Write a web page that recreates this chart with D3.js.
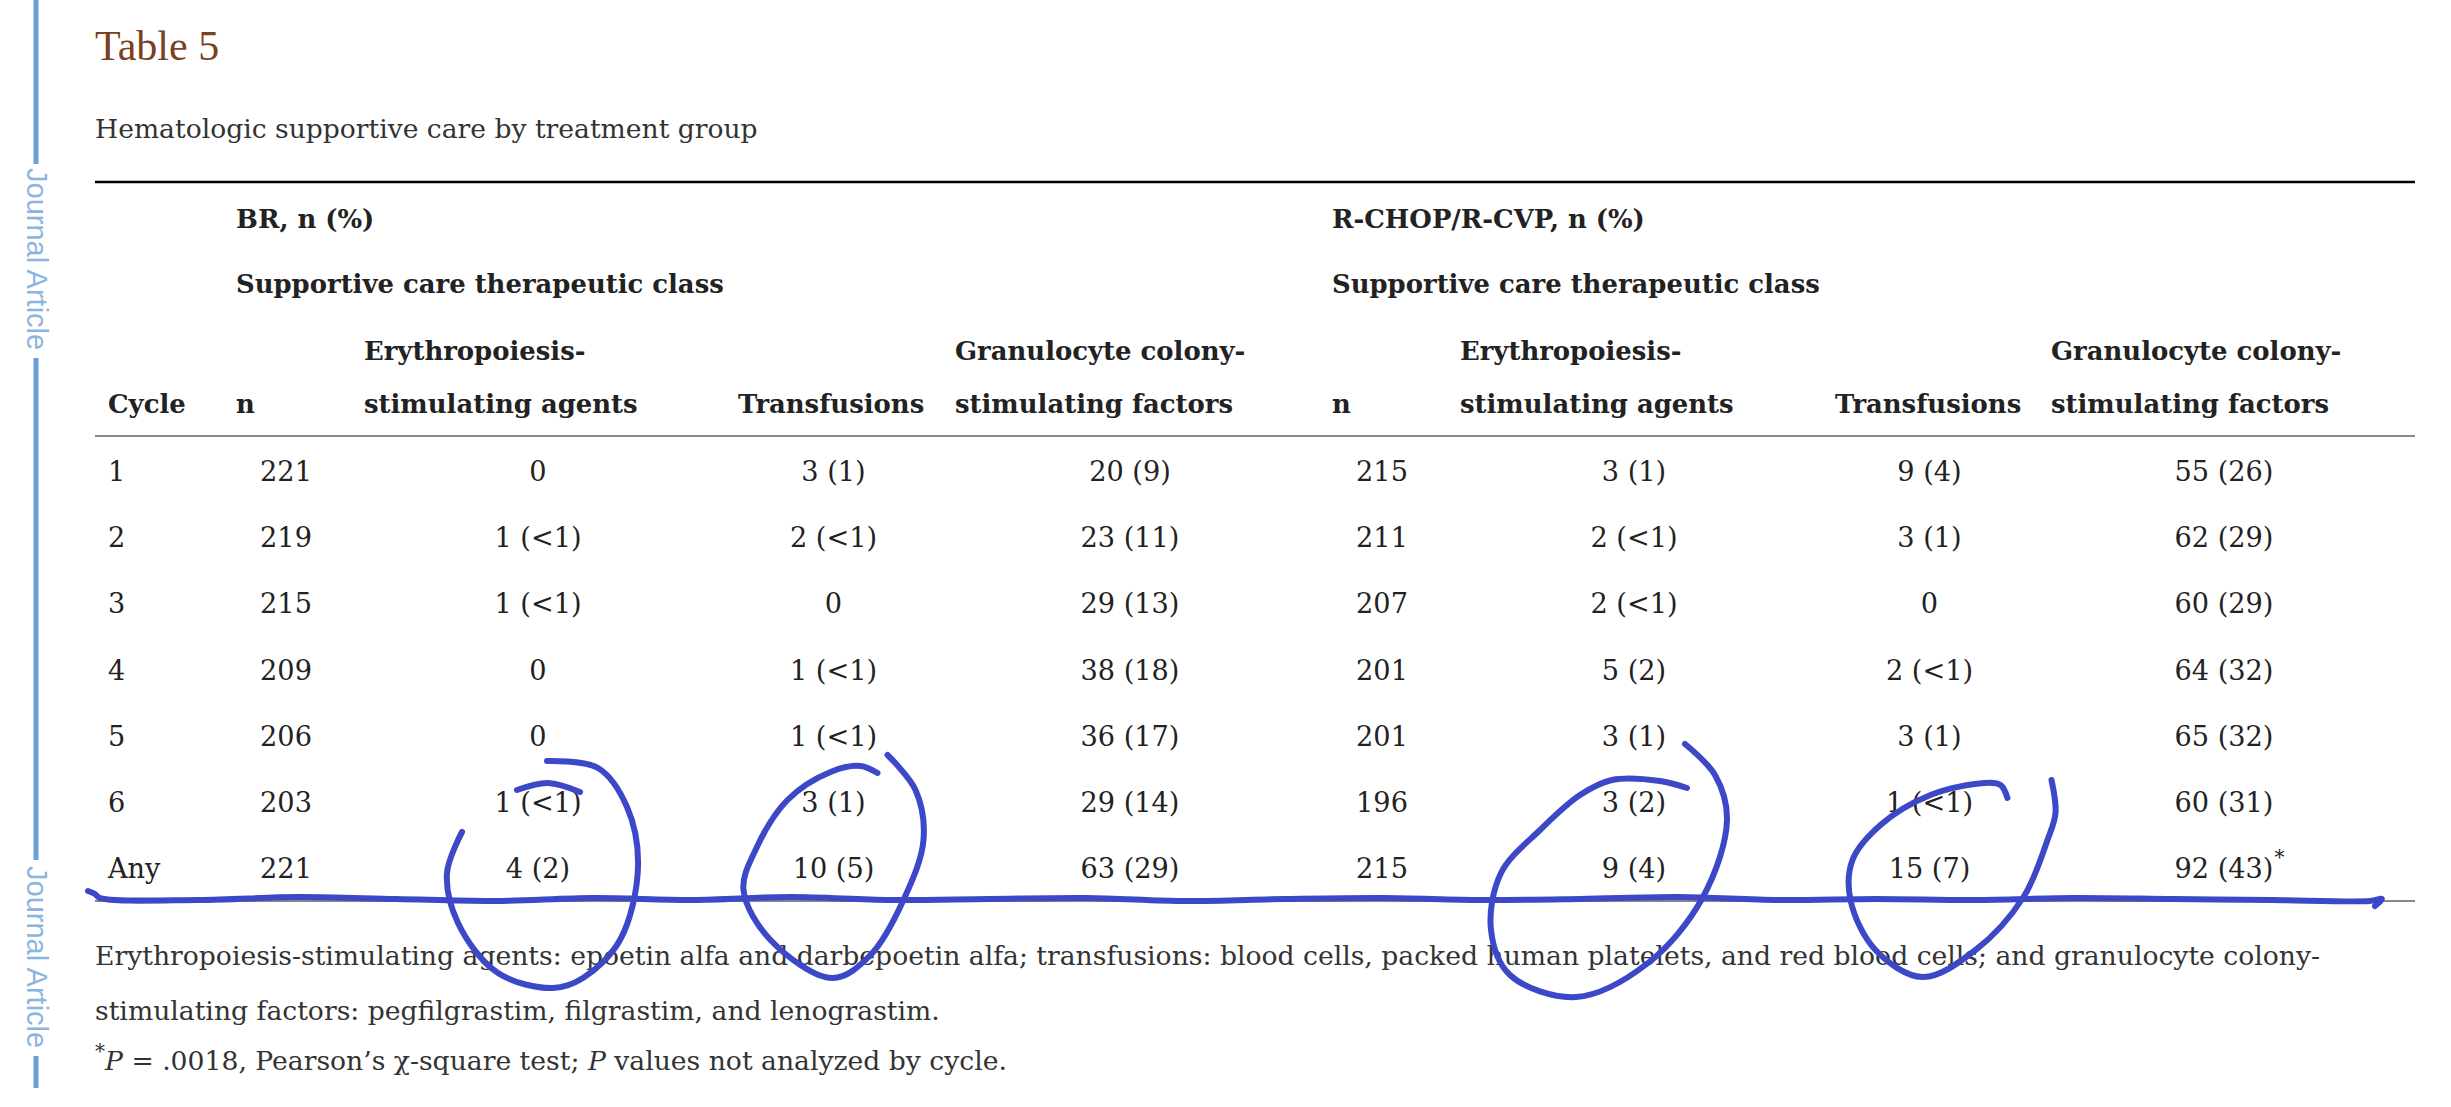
<!DOCTYPE html>
<html>
<head>
<meta charset="utf-8">
<script src="https://cdn.jsdelivr.net/npm/d3@7"></script>
<style>
  body { margin: 0; background: #fff; }
  text { font-family: 'DejaVu Serif', serif; }
</style>
</head>
<body>
<div id="table"></div>
<script>
// data
let cycles = ['1', '2', '3', '4', '5', '6', 'Any']
let brN = [221, 219, 215, 209, 206, 203, 221]
let brEsa = [0, 1, 1, 0, 0, 1, 4]
let brEsaPct = [null, '<1', '<1', null, null, '<1', '2']
let brTrans = [3, 2, 0, 1, 1, 3, 10]
let brTransPct = ['1', '<1', null, '<1', '<1', '1', '5']
let brGcsf = [20, 23, 29, 38, 36, 29, 63]
let brGcsfPct = ['9', '11', '13', '18', '17', '14', '29']
let rN = [215, 211, 207, 201, 201, 196, 215]
let rEsa = [3, 2, 2, 5, 3, 3, 9]
let rEsaPct = ['1', '<1', '<1', '2', '1', '2', '4']
let rTrans = [9, 3, 0, 2, 3, 1, 15]
let rTransPct = ['4', '1', null, '<1', '1', '<1', '7']
let rGcsf = [55, 62, 60, 64, 65, 60, 92]
let rGcsfPct = ['26', '29', '29', '32', '32', '31', '43']

let groups = ['BR, n (%)', 'R-CHOP/R-CVP, n (%)']
let subHeader = 'Supportive care therapeutic class'
let colHeads = [['Cycle'], ['n'], ['Erythropoiesis-', 'stimulating agents'], ['Transfusions'],
  ['Granulocyte colony-', 'stimulating factors'], ['n'], ['Erythropoiesis-', 'stimulating agents'],
  ['Transfusions'], ['Granulocyte colony-', 'stimulating factors']]
let notes = [
  'Erythropoiesis-stimulating agents: epoetin alfa and darbepoetin alfa; transfusions: blood cells, packed human platelets, and red blood cells; and granulocyte colony-',
  'stimulating factors: pegfilgrastim, filgrastim, and lenograstim.'
]

let width = 2451,
  height = 1107

let svg = d3.select('#table')
  .append('svg')
  .attr('width', width)
  .attr('height', height)

// layout
let left = 95, right = 2415
let colLeft = [108, 236, 364, 738, 955, 1332, 1460, 1835, 2051]
let colWidth = [100, 100, 348, 191, 350, 100, 348, 189, 346]
let colCenter = colLeft.map((l, i) => l + colWidth[i] / 2)

let y = d3.scalePoint()
  .domain(cycles)
  .range([481, 878])

let fmt = (c, p) => p == null ? String(c) : `${c} (${p})`

let columns = [
  cycles,
  brN.map(String),
  brEsa.map((c, i) => fmt(c, brEsaPct[i])),
  brTrans.map((c, i) => fmt(c, brTransPct[i])),
  brGcsf.map((c, i) => fmt(c, brGcsfPct[i])),
  rN.map(String),
  rEsa.map((c, i) => fmt(c, rEsaPct[i])),
  rTrans.map((c, i) => fmt(c, rTransPct[i])),
  rGcsf.map((c, i) => fmt(c, rGcsfPct[i]))
]

// pick a font size so a sample string takes the same width as in the reference
function fitSize(str, weight, target) {
  let t = svg.append('text').attr('font-size', 100).attr('font-weight', weight).text(str)
  let w = t.node().getComputedTextLength()
  t.remove()
  return 100 * target / w
}
let fsRegular = fitSize(notes[0], 'normal', 2226)
let fsBold = fitSize(subHeader, 'bold', 488)
let fsSub = fitSize('Hematologic supportive care by treatment group', 'normal', 663)

// side strip
let blue = '#6b9fd6'
let side = svg.append('g')
side.selectAll('line')
  .data([[0, 164], [358, 860], [1056, 1088]])
  .enter().append('line')
  .attr('x1', 36).attr('x2', 36)
  .attr('y1', d => d[0]).attr('y2', d => d[1])
  .attr('stroke', blue)
  .attr('stroke-width', 5)
side.selectAll('text')
  .data([168, 866])
  .enter().append('text')
  .attr('transform', d => `translate(27,${d}) rotate(90)`)
  .style('font-family', "'Liberation Sans', sans-serif")
  .attr('font-size', 29)
  .attr('fill', '#8cb4e0')
  .text('Journal Article')

// title
svg.append('text')
  .attr('x', left).attr('y', 60)
  .style('font-family', "'Liberation Serif', serif")
  .attr('font-size', 42)
  .attr('fill', '#7a4021')
  .text('Table 5')

svg.append('text')
  .attr('x', left).attr('y', 138)
  .attr('font-size', fsSub)
  .attr('fill', '#333')
  .text('Hematologic supportive care by treatment group')

// rules
svg.append('line')
  .attr('x1', left).attr('x2', right)
  .attr('y1', 182).attr('y2', 182)
  .attr('stroke', '#000').attr('stroke-width', 2.5)
svg.selectAll('.rule')
  .data([436, 901])
  .enter().append('line')
  .attr('class', 'rule')
  .attr('x1', left).attr('x2', right)
  .attr('y1', d => d).attr('y2', d => d)
  .attr('stroke', '#888').attr('stroke-width', 2)

// headers
let head = svg.append('g')
  .attr('font-size', fsBold)
  .attr('font-weight', 'bold')
  .attr('fill', '#222')

groups.forEach((g, i) => {
  let x = colLeft[1 + i * 4]
  head.append('text').attr('x', x).attr('y', 228).text(g)
  head.append('text').attr('x', x).attr('y', 293).text(subHeader)
})

colHeads.forEach((lines, i) => {
  lines.forEach((l, j) => {
    head.append('text')
      .attr('x', colLeft[i])
      .attr('y', 413 - (lines.length - 1 - j) * 53)
      .text(l)
  })
})

// body cells
let body = svg.append('g')
  .attr('font-size', fsRegular * 1.02)
  .attr('fill', '#222')

columns.forEach((col, ci) => {
  body.selectAll(`.c${ci}`)
    .data(col)
    .enter().append('text')
    .attr('class', `c${ci}`)
    .attr('x', ci === 0 ? colLeft[0] : colCenter[ci])
    .attr('y', (d, i) => y(cycles[i]))
    .attr('text-anchor', ci === 0 ? 'start' : 'middle')
    .text(d => d)
})

// asterisk on the last G-CSF "Any" cell
let lastCell = body.selectAll('.c8').filter((d, i) => i === cycles.length - 1)
let bb = lastCell.node().getBBox()
body.append('text')
  .attr('x', bb.x + bb.width + 1)
  .attr('y', y('Any') - 14)
  .attr('font-size', 20)
  .text('*')

// footnotes
let foot = svg.append('g')
  .attr('font-size', fsRegular)
  .attr('fill', '#333')
notes.forEach((n, i) => {
  foot.append('text').attr('x', left).attr('y', 965 + i * 55).text(n)
})
let last = foot.append('text').attr('x', left).attr('y', 1070)
last.append('tspan').attr('font-size', 20).attr('dy', -12).text('*')
last.append('tspan').attr('dy', 12).attr('font-style', 'italic').text('P')
last.append('tspan').text(' = .0018, Pearson\u2019s \u03c7-square test; ')
last.append('tspan').attr('font-style', 'italic').text('P')
last.append('tspan').text(' values not analyzed by cycle.')

// hand-drawn annotation (blue pen), placed relative to the "Any" cells
let pen = '#3d48c8'
let line = d3.line().curve(d3.curveCatmullRom.alpha(0.5))
let ink = svg.append('g')
  .attr('fill', 'none')
  .attr('stroke', pen)
  .attr('stroke-width', 6)
  .attr('stroke-linecap', 'round')
  .attr('stroke-linejoin', 'round')

let wobble = [-1, 1, -2, 0, 2, -1, 1, -2, 1, 0, -1, 2, 0, -1, 1, 0, -2, 1, 0, 1, -1, 0, 1, 2]
let wy = 899
let wx = d3.range(wobble.length).map(i => 100 + i * (2370 - 100) / (wobble.length - 1))
let wave = [[88, wy - 8], [95, wy - 5]].concat(wx.map((x, i) => [x, wy + wobble[i]]))
  .concat([[2382, wy], [2375, wy + 7]])
ink.append('path').attr('d', line(wave))

let loops = [
  {col: 2, pts: [[9, -117], [60, -110], [89, -71], [100, -11], [82, 62], [45, 100], [15, 110], [-40, 95], [-80, 45], [-91, -5], [-76, -46]]},
  {col: 2, pts: [[-21, -88], [10, -95], [42, -86]]},
  {col: 3, pts: [[44, -105], [27, -112], [-3, -106], [-46, -78], [-78, -28], [-90, 12], [-63, 62], [-1, 100], [37, 77], [70, 22], [90, -38], [82, -88], [54, -123]]},
  {col: 6, pts: [[53, -90], [26, -97], [-22, -98], [-54, -83], [-94, -48], [-133, -5], [-143, 52], [-124, 97], [-58, 119], [14, 85], [69, 19], [93, -58], [81, -103], [51, -134]]},
  {col: 7, pts: [[78, -80], [71, -93], [55, -95], [1, -83], [-49, -53], [-77, -18], [-79, 22], [-54, 72], [-7, 99], [46, 72], [94, 19], [118, -38], [126, -65], [122, -98]]}
]
loops.forEach(l => {
  let cx = colCenter[l.col], cy = y('Any')
  ink.append('path').attr('d', line(l.pts.map(p => [cx + p[0], cy + p[1]])))
})
</script>
</body>
</html>
